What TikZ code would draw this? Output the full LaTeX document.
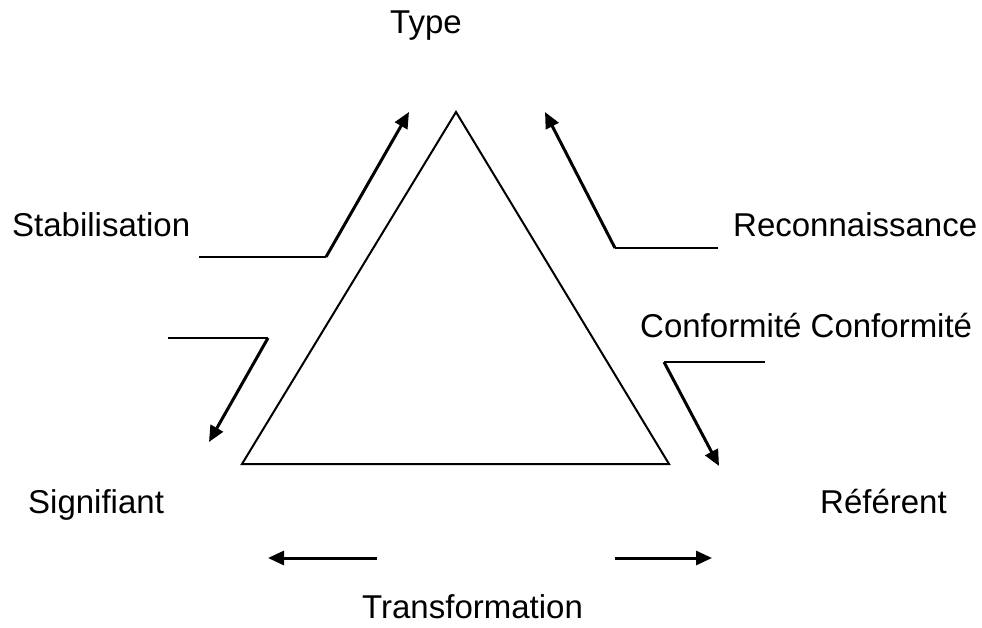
\documentclass[tikz,border=0pt]{standalone}
\usepackage{fontspec}
\setmainfont{Liberation Sans}
\usetikzlibrary{arrows.meta}

\begin{document}
\begin{tikzpicture}[
    x=1pt, y=-1pt,
    lbl/.style={inner sep=0pt, anchor=base west, font=\fontsize{33}{40}\selectfont},
    edge/.style={line width=2pt, line join=miter},
    pointer/.style={line width=3pt, -{Triangle[length=16pt, width=14pt]}},
  ]

  \useasboundingbox (0,0) rectangle (982,628);

  % --- triangle ---
  \coordinate (apex) at (456,112);
  \coordinate (sig) at (242,464);
  \coordinate (ref) at (669,464);
  \draw[edge] (apex) -- (sig) -- (ref) -- cycle;

  % --- labels ---
  \node[lbl] (type) at (390,34) {Type};
  \node[lbl] (stab) at (12,237) {Stabilisation};
  \node[lbl] (reco) at (733,237) {Reconnaissance};
  \node[lbl] (conf) at (640,337) {Conformité Conformité};
  \node[lbl] (signif) at (28,513) {Signifiant};
  \node[lbl] (refer) at (820,513) {Référent};
  \node[lbl] (trans) at (362,618) {Transformation};

  % --- connector points ---
  \coordinate (st1) at (199,257); \coordinate (st2) at (326,257); \coordinate (st3) at (409,112);
  \coordinate (re1) at (718,248); \coordinate (re2) at (615,248); \coordinate (re3) at (545,112);
  \coordinate (sg1) at (168,338); \coordinate (sg2) at (268,338); \coordinate (sg3) at (209,442);
  \coordinate (co1) at (765,362); \coordinate (co2) at (664,362); \coordinate (co3) at (719,466);
  \coordinate (tl1) at (377,558); \coordinate (tl2) at (268,558);
  \coordinate (tr1) at (615,558); \coordinate (tr2) at (712,558);

  % --- bent arrows ---
  \draw[edge] (st1) -- (st2);
  \draw[pointer] (st2) -- (st3);
  \draw[edge] (re1) -- (re2);
  \draw[pointer] (re2) -- (re3);
  \draw[edge] (sg1) -- (sg2);
  \draw[pointer] (sg2) -- (sg3);
  \draw[edge] (co1) -- (co2);
  \draw[pointer] (co2) -- (co3);

  % --- transformation arrows ---
  \draw[pointer] (tl1) -- (tl2);
  \draw[pointer] (tr1) -- (tr2);

\end{tikzpicture}
\end{document}
